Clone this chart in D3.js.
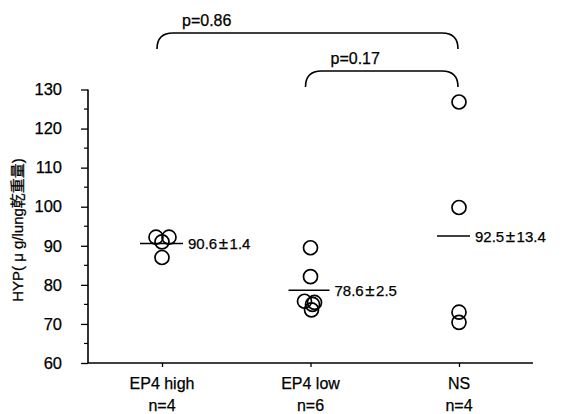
<!DOCTYPE html>
<html>
<head>
<meta charset="utf-8">
<script src="https://cdn.jsdelivr.net/npm/d3@7"></script>
<style>
  body { margin: 0; background: #fff; }
  text { font-family: "Liberation Sans", Arial, "Noto Sans CJK JP", sans-serif; fill: #000; stroke: #000; stroke-width: 0.25px; }
</style>
</head>
<body>
<script>
var svgWidth = 567;
var svgHeight = 414;

// groups and measured values
var groups = ["EP4 high", "EP4 low", "NS"];
var groupN = ["n=4", "n=6", "n=4"];
var highValues = [92.2, 92.2, 91.0, 87.0];
var lowValues = [89.5, 82.1, 75.8, 75.5, 75.0, 73.6];
var nsValues = [126.8, 99.8, 73.0, 70.4];
var meanValues = [90.6, 78.6, 92.5];
var meanText = ["90.6", "78.6", "92.5"];
var sdText = ["1.4", "2.5", "13.4"];
var yTicks = [60, 70, 80, 90, 100, 110, 120, 130];
var yMinorTicks = [65, 75, 85, 95, 105, 115, 125];
var comparisons = [
    { from: "EP4 high", to: "NS", label: "p=0.86" },
    { from: "EP4 low", to: "NS", label: "p=0.17" }
];

var points = [];
[highValues, lowValues, nsValues].forEach(function (vals, gi) {
    vals.forEach(function (v) { points.push({ group: groups[gi], value: v }); });
});

var x = d3.scalePoint()
    .domain(groups)
    .range([162, 459]);

var y = d3.scaleLinear()
    .domain([60, 130])
    .range([363, 89.5]);

var svg = d3.select("body")
    .append("svg")
    .attr("width", svgWidth)
    .attr("height", svgHeight);

// y axis
var yAxis = svg.append("g")
    .attr("transform", "translate(88,0)")
    .call(d3.axisLeft(y).tickValues(yTicks).tickSize(7).tickPadding(19));
yAxis.select(".domain").attr("stroke-width", 1.6).attr("d", "M0," + y(130) + "V" + y(60));
yAxis.selectAll(".tick line").attr("stroke-width", 1.3);
yAxis.selectAll(".tick text")
    .style("font-size", "16.5px")
    .attr("text-anchor", "end");

svg.append("g")
    .selectAll("line")
    .data(yMinorTicks).enter()
    .append("line")
    .attr("x1", 84)
    .attr("x2", 88)
    .attr("y1", d => y(d))
    .attr("y2", d => y(d))
    .attr("stroke", "#000")
    .attr("stroke-width", 1.2);

// x axis
var xAxis = svg.append("g")
    .attr("transform", "translate(0,363)")
    .call(d3.axisBottom(x).tickSize(4).tickFormat(""));
xAxis.select(".domain").attr("d", "M88,0H533").attr("stroke-width", 1.6);
xAxis.selectAll(".tick line").attr("stroke-width", 1.3);

svg.selectAll(".catLabel")
    .data(groups).enter()
    .append("text")
    .attr("x", d => x(d))
    .attr("y", 389)
    .attr("text-anchor", "middle")
    .style("font-size", "16px")
    .text(d => d);

svg.selectAll(".nLabel")
    .data(groupN).enter()
    .append("text")
    .attr("x", (d, i) => x(groups[i]))
    .attr("y", 411)
    .attr("text-anchor", "middle")
    .style("font-size", "16px")
    .text(d => d);

// y axis title
svg.append("text")
    .attr("transform", "translate(23,230) rotate(-90)")
    .attr("text-anchor", "middle")
    .style("font-size", "15px")
    .text("HYP( \u03bc g/lung乾重量)");

// points
var jitter = { "EP4 high": [-6, 7, 0, 0], "EP4 low": [0, 0, -6, 4, 2, 1], "NS": [0, 0, 0, 0] };
svg.selectAll(".pt")
    .data(points).enter()
    .append("circle")
    .attr("cx", d => {
        var idx = points.filter(p => p.group === d.group).indexOf(d);
        return x(d.group) + jitter[d.group][idx];
    })
    .attr("cy", d => y(d.value))
    .attr("r", 7)
    .attr("fill", "none")
    .attr("stroke", "#000")
    .attr("stroke-width", 1.7);

// mean lines and labels
var lineLeft = [22, 22, 22];
var lineRight = [21, 19, 11];
svg.selectAll(".meanLine")
    .data(meanValues).enter()
    .append("line")
    .attr("x1", (d, i) => x(groups[i]) - lineLeft[i])
    .attr("x2", (d, i) => x(groups[i]) + lineRight[i])
    .attr("y1", d => y(d))
    .attr("y2", d => y(d))
    .attr("stroke", "#000")
    .attr("stroke-width", 1.5);

var meanLabel = svg.selectAll(".meanLabel")
    .data(meanValues).enter()
    .append("text")
    .attr("x", (d, i) => x(groups[i]) + lineRight[i] + 5)
    .attr("y", d => y(d) + 5.5)
    .style("font-size", "15px");
meanLabel.append("tspan").text((d, i) => meanText[i]);
meanLabel.append("tspan").attr("dx", 1.5).style("font-size", "17px").text("\u00b1");
meanLabel.append("tspan").attr("dx", 1.5).text((d, i) => sdText[i]);

// comparison brackets
var bracketTop = [33, 71];
var bracketDrop = 16;
comparisons.forEach(function (c, i) {
    var x1 = x(c.from) - 5;
    var x2 = x(c.to) - 1;
    var yt = bracketTop[i];
    var yb = yt + bracketDrop;
    var path = d3.path();
    path.moveTo(x1, yb);
    path.quadraticCurveTo(x1, yt, x1 + 16, yt);
    path.lineTo(x2 - 16, yt);
    path.quadraticCurveTo(x2, yt, x2, yb);
    svg.append("path")
        .attr("d", path.toString())
        .attr("fill", "none")
        .attr("stroke", "#000")
        .attr("stroke-width", 1.6);
    svg.append("text")
        .attr("x", x1 + 25)
        .attr("y", yt - 7)
        .style("font-size", "16px")
        .text(c.label);
});
</script>
</body>
</html>
